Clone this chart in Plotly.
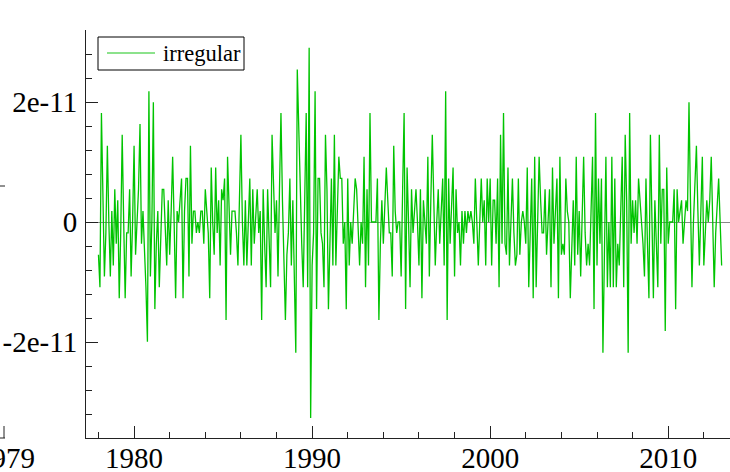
import plotly.graph_objects as go

# ---- data (monthly, Jan 1978 .. Jan 2013), values in units of 1.815e-12 ----
start_year = 1978
unit = 1.815e-12
irregular_1978_1982 = [
    -3, -6, 10, 2, -5, -1, 7, 0, -5, 1,
    -4, 3, -2, 2, -7, -1, 8, 0, -7, -1,
    -1, 3, -5, 0, 7, -3, 0, 3, 9, -2,
    1, -2, -6, -11, 12, -5, 0, 11, -8, -2,
    1, -6, -1, 3, 3, 0, -4, 2, -3, 1,
    6, 0, -7, 1, 0, 2, 4, -7, 1, 4]
irregular_1983_1987 = [
    4, -5, 7, -2, 1, 1, -1, 0, -1, 1,
    1, -2, 3, 1, -1, -7, 5, 0, -3, 5,
    -1, 2, -4, 3, 2, 4, -9, 6, 0, -3,
    1, 1, 1, -1, -4, 2, 8, 0, -4, 2,
    -4, 0, 4, -4, 3, -2, 0, 3, -1, 1,
    -9, 3, -2, -6, 3, -1, -6, 8, 2, -1]
irregular_1988_1993 = [
    2, -5, 3, 10, 2, -3, -9, -3, -1, 4,
    -4, 2, -5, -12, 14, 8, 3, -2, -6, 3,
    10, -6, 16, -18, -4, -1, 12, -8, 4, 4,
    -1, -2, -6, 8, 3, -8, 0, 4, -4, 8,
    -4, 0, 6, 4, 4, -2, 0, -8, 4, -4,
    0, -2, 1, 4, 3, 0, -4, 0, -2, 6,
    -6]
irregular_1993_1997 = [
    3, -4, 10, 0, 0, 0, 0, 4, -9, -2,
    2, -2, 1, 5, 2, -1, -1, -5, 7, 1,
    -1, 0, 0, -5, 3, 10, -8, 5, 0, -6,
    3, -1, 1, 3, 0, -4, 3, -7, 2, 0,
    -2, 6, -5, 2, 8, 2, -4, 0, 3, -2,
    1, 4, -4, 12, -9, 4, -2, 1, 5]
irregular_1998_2003 = [
    -5, 3, -1, 0, -4, 1, -2, 1, -1, 1,
    0, 1, 0, -2, 4, 0, -4, 0, 4, 0,
    2, -4, 4, 0, 4, -4, 2, 2, -2, 4,
    -6, 8, -2, 10, -2, -3, 5, -4, 1, 4,
    -1, -4, -3, 4, -3, 0, 1, 0, -2, 5,
    -6, 0, 4, -7, 6, -6, 0, 6, 2, -1,
    -1]
irregular_2003_2008 = [
    3, -3, 0, 3, -6, 5, -2, 1, 4, -7,
    6, -3, -2, -3, 4, 1, 0, -7, -2, 2,
    -4, 6, -3, 1, -5, 0, 6, -1, -4, -2,
    -4, 1, 6, -8, 10, -4, 4, -2, 4, -12,
    0, 6, -6, 0, -6, 6, -6, 4, -6, -2,
    -4, 1, 6, -6, 8, 2, -12, 10, -2, 2]
irregular_2008_2013 = [
    -1, 2, -2, 4, 2, 0, -2, -5, 4, -2,
    -7, 8, 0, -7, 2, -2, -6, 8, -2, 3,
    3, -10, 5, -2, 0, 0, 0, 3, -8, 3,
    0, 1, 2, -2, 0, 2, 1, 11, 2, -6,
    0, 4, 7, 1, -4, 1, 6, -4, 0, 2,
    0, 2, 6, 0, -6, -1, 2, 4, 0, -4]

series_name = "irregular"
y_tick_vals = [-2e-11, 0, 2e-11]
y_tick_text = ["-2e-11", "0", "2e-11"]
x_tick_vals = [1980, 1990, 2000, 2010]
x_tick_text = ["1980", "1990", "2000", "2010"]

units = (irregular_1978_1982 + irregular_1983_1987 + irregular_1988_1993 +
         irregular_1993_1997 + irregular_1998_2003 + irregular_2003_2008 +
         irregular_2008_2013)
y = [v * unit for v in units]
x = [start_year + i / 12 for i in range(len(y))]

FONT = "Liberation Serif"
W, H = 730, 472
L, R, T, B = 86, 0, 30, 34
pw = W - L - R
ph = H - T - B
LINE_COLOR = "#00c400"
AXIS_COLOR = "#222"

fig = go.Figure()
fig.add_trace(go.Scatter(x=x, y=y, mode="lines", name=series_name,
                         showlegend=False,
                         line=dict(color=LINE_COLOR, width=1.3)))

fig.update_layout(
    width=W, height=H,
    margin=dict(l=L, r=R, t=T, b=B, pad=0),
    paper_bgcolor="white", plot_bgcolor="white",
    font=dict(family=FONT, size=29, color="black"),
    showlegend=False,
)
fig.update_xaxes(
    range=[1977.3, 2013.47], showgrid=False, zeroline=False,
    showline=True, linecolor=AXIS_COLOR, linewidth=1,
    tickmode="array", tickvals=x_tick_vals, ticktext=x_tick_text,
    ticks="inside", ticklen=12, tickcolor=AXIS_COLOR,
    minor=dict(dtick=2, tick0=1978, ticks="inside", ticklen=6, tickcolor=AXIS_COLOR),
    tickfont=dict(family=FONT, size=29), automargin=False,
    ticklabelstandoff=-6,
)
fig.update_yaxes(
    range=[-3.6e-11, 3.2e-11], showgrid=False,
    zeroline=True, zerolinecolor="#888", zerolinewidth=1,
    showline=True, linecolor=AXIS_COLOR, linewidth=1,
    tickmode="array", tickvals=y_tick_vals, ticktext=y_tick_text,
    ticks="inside", ticklen=12, tickcolor=AXIS_COLOR,
    minor=dict(dtick=0.4e-11, tick0=0, ticks="inside", ticklen=6, tickcolor=AXIS_COLOR),
    tickfont=dict(family=FONT, size=29), automargin=False,
    ticklabelstandoff=2,
)

def px_x(p):
    return (p - L) / pw

def px_y(p):
    return (H - B - p) / ph

# legend box (drawn to match the reference's framed legend)
fig.add_shape(type="rect", xref="paper", yref="paper",
              x0=px_x(98), x1=px_x(244), y0=px_y(70), y1=px_y(37),
              line=dict(color="black", width=1), fillcolor="white", layer="above")
fig.add_shape(type="line", xref="paper", yref="paper",
              x0=px_x(107), x1=px_x(155), y0=px_y(53), y1=px_y(53),
              line=dict(color="#66d966", width=1.5), layer="above")
fig.add_annotation(text=series_name, xref="paper", yref="paper",
                   x=px_x(161), y=px_y(53), xanchor="left", yanchor="middle",
                   showarrow=False, font=dict(family=FONT, size=22.5))

# fragment of the neighbouring panel visible at the left edge
fig.add_shape(type="line", xref="paper", yref="paper",
              x0=px_x(0), x1=px_x(5), y0=px_y(438), y1=px_y(438),
              line=dict(color=AXIS_COLOR, width=1))
fig.add_shape(type="line", xref="paper", yref="paper",
              x0=px_x(4), x1=px_x(4), y0=px_y(438), y1=px_y(426),
              line=dict(color=AXIS_COLOR, width=1))
fig.add_shape(type="line", xref="paper", yref="paper",
              x0=px_x(0), x1=px_x(5), y0=px_y(186), y1=px_y(186),
              line=dict(color=AXIS_COLOR, width=1))
fig.add_annotation(text="1979", xref="paper", yref="paper",
                   x=px_x(6), y=px_y(440), xanchor="center", yanchor="top",
                   showarrow=False, font=dict(family=FONT, size=29))

fig.write_html("out.html",
               config={"displayModeBar": False},
               post_script="document.body.style.margin='0';"
                           "document.body.style.overflow='hidden';")
